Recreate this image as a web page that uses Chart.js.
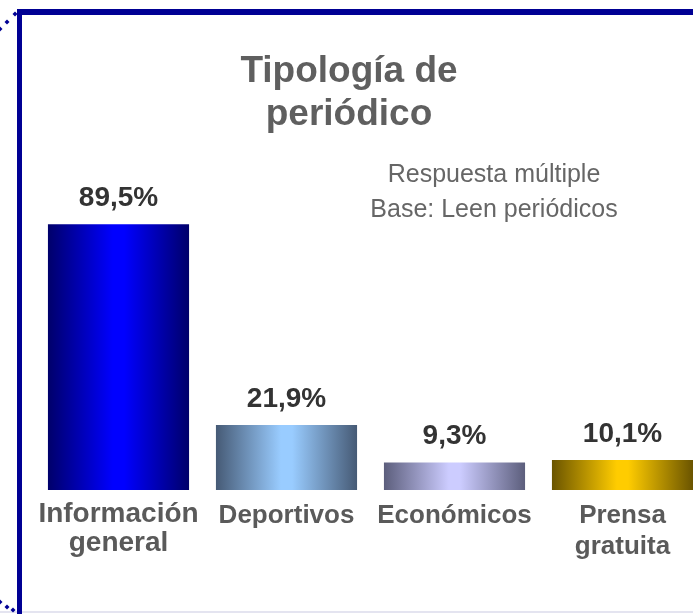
<!DOCTYPE html>
<html>
<head>
<meta charset="utf-8">
<script src="https://cdn.jsdelivr.net/npm/chart.js@4"></script>
<style>
  html, body { margin: 0; padding: 0; background: #fff; overflow: hidden; }
  #wrap { width: 714px; height: 614px; }
</style>
</head>
<body>
<div id="wrap"><canvas id="myChart" width="714" height="614"></canvas></div>
<script>
const categories = [['Información', 'general'], 'Deportivos', 'Económicos', ['Prensa', 'gratuita']];
const shares = [89.5, 21.9, 9.3, 10.1];
const titleLines = ['Tipología de', 'periódico'];
const noteLines = ['Respuesta múltiple', 'Base: Leen periódicos'];

// bar shading: dark edges, light centre
const edgeColors = ['#00006a', '#465a75', '#5c5e7c', '#6a5400'];
const midColors = ['#0000ff', '#99ccff', '#ccccff', '#ffcc00'];

const FONT = '"Liberation Sans", Arial, sans-serif';

function barGradient(ctx) {
    const chart = ctx.chart;
    const i = ctx.dataIndex;
    if (!chart.chartArea || i === undefined) return midColors[i] || '#888';
    const xs = chart.scales.x;
    const cx = xs.getPixelForValue(i);
    const half = xs.width / categories.length * 0.84 / 2;
    const g = chart.ctx.createLinearGradient(cx - half, 0, cx + half, 0);
    g.addColorStop(0, edgeColors[i]);
    g.addColorStop(0.46, midColors[i]);
    g.addColorStop(0.54, midColors[i]);
    g.addColorStop(1, edgeColors[i]);
    return g;
}

// frame, title and note
const decor = {
    id: 'decor',
    beforeDraw(chart) {
        const c = chart.ctx;
        c.save();
        c.fillStyle = '#fff';
        c.fillRect(0, 0, chart.width, chart.height);
        c.fillStyle = '#e4e4f0';
        c.fillRect(0, 611, chart.width, 2);
        c.fillStyle = '#000094';
        c.fillRect(17, 9, chart.width - 17, 6);
        c.fillRect(17, 9, 5, 605);
        [[15, 14], [7, 22], [0, 29], [0, 602], [7, 607], [13, 610]].forEach(([x, y]) => {
            c.beginPath();
            c.moveTo(x, y - 2.5); c.lineTo(x + 2.5, y); c.lineTo(x, y + 2.5); c.lineTo(x - 2.5, y);
            c.closePath(); c.fill();
        });
        c.textAlign = 'center';
        c.textBaseline = 'middle';
        c.fillStyle = '#5f5f5f';
        c.font = 'bold 37px ' + FONT;
        titleLines.forEach((t, k) => c.fillText(t, 349, 72 + k * 43));
        c.fillStyle = '#666';
        c.font = '25px ' + FONT;
        noteLines.forEach((t, k) => c.fillText(t, 494, 175 + k * 35));
        c.restore();
    },
    afterDatasetsDraw(chart) {
        const c = chart.ctx;
        c.save();
        c.textAlign = 'center';
        c.textBaseline = 'middle';
        c.fillStyle = '#333';
        c.font = 'bold 28px ' + FONT;
        chart.getDatasetMeta(0).data.forEach((bar, i) => {
            c.fillText(shares[i].toFixed(1).replace('.', ',') + '%', bar.x, bar.y - 26);
        });
        c.restore();
    }
};

const data = {
    labels: categories,
    datasets: [{
        data: shares,
        backgroundColor: barGradient,
        borderWidth: 0,
        categoryPercentage: 0.84,
        barPercentage: 1
    }]
};

const config = {
    type: 'bar',
    data,
    plugins: [decor],
    options: {
        responsive: false,
        animation: false,
        layout: { padding: { left: 34.5, right: 7.5, top: 193, bottom: 0 } },
        scales: {
            x: {
                grid: { display: false, drawTicks: false },
                border: { display: false },
                afterFit(scale) { scale.height = 124; },
                ticks: {
                    padding: 10,
                    color: '#5a5a5a',
                    maxRotation: 0,
                    autoSkip: false,
                    font: (ctx) => ({
                        family: FONT,
                        weight: 'bold',
                        size: ctx.index === 0 ? 28 : 26,
                        lineHeight: ctx.index === 0 ? '29px' : '31px'
                    })
                }
            },
            y: { display: false, min: 0, max: 100 }
        },
        plugins: {
            legend: { display: false },
            tooltip: { enabled: false }
        }
    }
};

const myChart = new Chart(document.getElementById('myChart'), config);
</script>
</body>
</html>
